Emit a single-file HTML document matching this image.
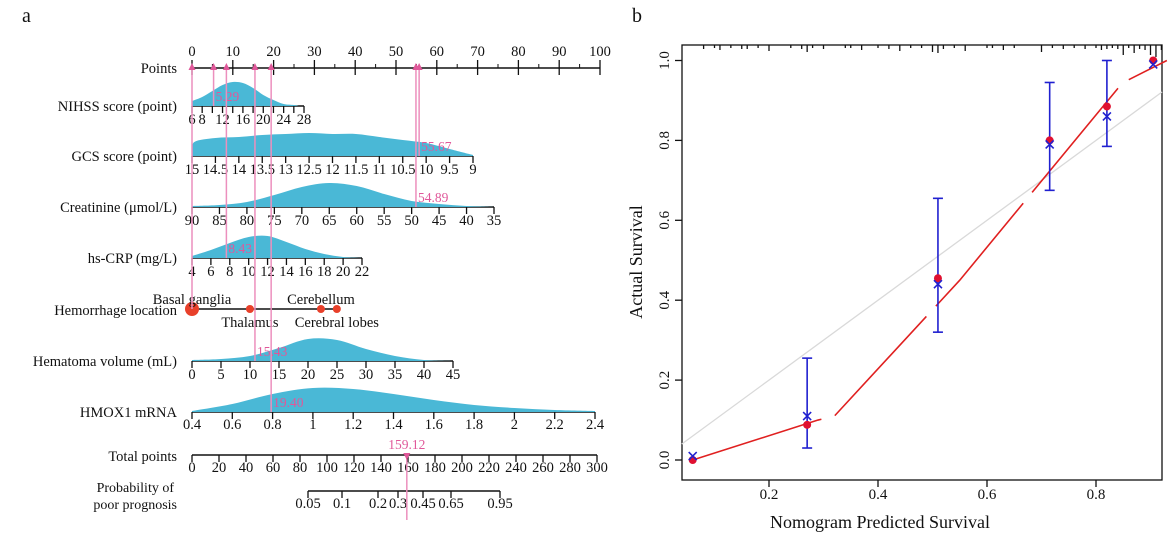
<!DOCTYPE html>
<html><head><meta charset="utf-8"><style>
body{margin:0;background:#fff}
svg{display:block;font-family:"Liberation Serif",serif}
</style></head><body>
<svg id="fig" width="1170" height="540" viewBox="0 0 1170 540"></svg>
<script>
// ---------- data ----------
const nihssVals=[6,8,10,12,14,16,18,20,22,24,26,27];
const nihssDens=[5,9,15,21,24,23,18,11,6,2,1,0];
const gcsVals=[15,14.95,14.5,14,13.5,13,12.5,12,11.5,11,10.5,10,9.5,9];
const gcsDens=[3,14,18,19,21,22,23,22,22,19,16,13,7,1];
const creaVals=[90,85,80,75,70,65,60,55,50,45,40,35];
const creaDens=[1,2,5,12,20,24,21,13,6,3,1,0];
const crpVals=[4,6,8,10,12,14,16,18,20,22];
const crpDens=[2,8,15,21,22,16,9,4,1,0];
const hemVals=[0,5,10,15,20,25,30,35,40,45];
const hemDens=[1,2,5,13,22,21,12,5,1,0];
const hmoxVals=[0.4,0.6,0.8,1.0,1.2,1.4,1.6,1.8,2.0,2.2,2.4];
const hmoxDens=[1,8,18,24,23,18,12,7,4,2,1];
const patientPoints=[0,5.29,8.43,15.43,19.40,54.89,55.67];
const totalPoints=159.12;
const locNames=["Basal ganglia","Thalamus","Cerebellum","Cerebral lobes"];
const locPoints=[0,14.2,31.6,35.5];
// calibration
const predX=[0.06,0.27,0.51,0.715,0.82,0.905];
const obsDot=[0.0,0.088,0.455,0.80,0.885,1.0];
const obsX=[0.01,0.11,0.44,0.79,0.86,0.99];
const errLo=[null,0.03,0.32,0.675,0.785,null];
const errHi=[null,0.255,0.655,0.945,1.0,null];
const curveX=[0.06,0.29,0.32,0.55,0.84,0.85,0.93];
const curveY=[0.0,0.10,0.11,0.45,0.93,0.945,1.0];
const rug=[0.08,0.1,0.11,0.13,0.15,0.16,0.18,0.2,0.24,0.26,0.27,0.28,0.3,0.34,0.35,0.37,0.4,0.42,0.44,0.46,0.48,0.5,0.51,0.52,0.54,0.56,0.6,0.61,0.63,0.65,0.7,0.72,0.74,0.76,0.78,0.8,0.81,0.82,0.83,0.84,0.85,0.86,0.87,0.88,0.89,0.9,0.91,0.92];
const rugLen=[4,3,5,3,4,4,3,6,3,4,7,3,4,3,3,5,3,4,6,3,3,7,8,4,3,6,3,3,5,3,7,3,4,3,4,3,5,4,3,4,10,3,8,4,5,10,12,5];

const svg=document.getElementById('fig');
const NS='http://www.w3.org/2000/svg';
function el(tag,attrs,parent){const e=document.createElementNS(NS,tag);for(const k in attrs)e.setAttribute(k,attrs[k]);(parent||svg).appendChild(e);return e;}
function txt(x,y,s,size,anchor,fill,parent){const t=el('text',{x:x,y:y,'font-size':size,'text-anchor':anchor||'middle',fill:fill||'#111'},parent);t.textContent=s;return t;}

txt(22,22,'a',20,'start');
txt(632,22,'b',20,'start');

// ---------- nomogram ----------
const P0=192,PW=4.08;
const px=p=>P0+p*PW;
const LBLX=177;
const FS=14.5;
function rowLabel(y,s,name){const t=txt(LBLX,y+5,s,14.5,'end');

}

function scaleAxis(name,y,x0,x1,v0,v1,ticks,labels,lblY){
  const g=el('g',{});
  
  
  const f=v=>x0+(v-v0)/(v1-v0)*(x1-x0);
  el('line',{x1:x0,y1:y,x2:x1,y2:y,stroke:'#111','stroke-width':1.5},g);
  ticks.forEach(v=>el('line',{x1:f(v),y1:y,x2:f(v),y2:y+7,stroke:'#111','stroke-width':1.3},g));
  labels.forEach(v=>txt(f(v),lblY,String(v),FS,'middle','#111',g));
  return f;
}
function density(name,y,f,vals,dens){
  const pts=vals.map((v,i)=>[f(v),y-dens[i]]);
  let d='M'+pts[0][0]+','+y+' L'+pts[0][0]+','+pts[0][1];
  for(let i=0;i<pts.length-1;i++){
    const p0=pts[Math.max(0,i-1)],p1=pts[i],p2=pts[i+1],p3=pts[Math.min(pts.length-1,i+2)];
    const c1=[p1[0]+(p2[0]-p0[0])/6,p1[1]+(p2[1]-p0[1])/6];
    const c2=[p2[0]-(p3[0]-p1[0])/6,p2[1]-(p3[1]-p1[1])/6];
    d+=` C${c1[0]},${c1[1]} ${c2[0]},${c2[1]} ${p2[0]},${p2[1]}`;
  }
  d+=' L'+pts[pts.length-1][0]+','+y+' Z';
  const p=el('path',{d:d,fill:'#4ab8d6',stroke:'none'});
  
  
}
const range=(a,b,s)=>{const r=[];for(let v=a;v<=b+1e-9;v+=s)r.push(Math.round(v*100)/100);return r;};

// Points
rowLabel(68,'Points','points-label');
const fp=scaleAxis('points-axis',68,P0,px(100),0,100,range(0,100,10),[],0);
range(0,100,10).forEach(v=>{el('line',{x1:fp(v),y1:68,x2:fp(v),y2:60,stroke:'#111','stroke-width':1.3});txt(fp(v),56,String(v),FS);});
range(5,95,10).forEach(v=>{el('line',{x1:fp(v),y1:68,x2:fp(v),y2:64,stroke:'#111','stroke-width':1});});

// NIHSS
rowLabel(106,'NIHSS score (point)','nihss-label');
const fn=scaleAxis('nihss-axis',106,192,304,6,28,range(6,28,2),[6,8,12,16,20,24,28],124);
density('nihss-density',106,fn,nihssVals,nihssDens);
// GCS
rowLabel(156,'GCS score (point)','gcs-label');
const fg=scaleAxis('gcs-axis',156,192,473,15,9,range(9,15,0.5),range(9,15,0.5),174);
density('gcs-density',156,fg,gcsVals,gcsDens);
// Creatinine
rowLabel(207,'Creatinine (\u03bcmol/L)','creatinine-label');
const fc=scaleAxis('creatinine-axis',207,192,494,90,35,range(35,90,5),range(35,90,5),225);
density('creatinine-density',207,fc,creaVals,creaDens);
// hs-CRP
rowLabel(258,'hs-CRP (mg/L)','hscrp-label');
const fh=scaleAxis('hscrp-axis',258,192,362,4,22,range(4,22,2),range(4,22,2),276);
density('hscrp-density',258,fh,crpVals,crpDens);
// Hemorrhage location
rowLabel(310,'Hemorrhage location','hemorrhage-label');
el('line',{x1:px(0),y1:309,x2:px(locPoints[3]),y2:309,stroke:'#111','stroke-width':1.5});
locPoints.forEach((p,i)=>{const c=el('circle',{cx:px(p),cy:309,r:i==0?7:4,fill:'#e8402a'});

});
txt(px(locPoints[0]),304,locNames[0],14.5);
txt(px(locPoints[1]),327,locNames[1],14.5);
txt(px(locPoints[2]),304,locNames[2],14.5);
txt(px(locPoints[3]),327,locNames[3],14.5);
// Hematoma
rowLabel(361,'Hematoma volume (mL)','hematoma-label');
const fm=scaleAxis('hematoma-axis',361,192,453,0,45,range(0,45,5),range(0,45,5),379);
density('hematoma-density',361,fm,hemVals,hemDens);
// HMOX1
rowLabel(412,'HMOX1 mRNA','hmox1-label');
const fx=scaleAxis('hmox1-axis',412,192,595,0.4,2.4,range(0.4,2.4,0.2),[0.4,0.6,0.8,1,1.2,1.4,1.6,1.8,2,2.2,2.4],429);
density('hmox1-density',412,fx,hmoxVals,hmoxDens);
// Total points
rowLabel(456,'Total points','total-points-label');
const ft=scaleAxis('total-points-axis',455,192,597,0,300,range(0,300,20),range(0,300,20),472);
// Probability
txt(LBLX-3,492,'Probability of',14,'end');
txt(LBLX,509,'poor prognosis',14,'end');
const probV=[0.05,0.1,0.2,0.3,0.45,0.65,0.95];
const probPx=[308,342,378,398,423,451,500];
const pg=el('g',{});


el('line',{x1:308,y1:491,x2:500,y2:491,stroke:'#111','stroke-width':1.5},pg);
probV.forEach((v,i)=>{el('line',{x1:probPx[i],y1:491,x2:probPx[i],y2:498,stroke:'#111','stroke-width':1.3},pg);txt(probPx[i],508,String(v),FS,'middle','#111',pg);});

// patient pink lines
const pink='#e0589a';
const rowYs=[309,106,258,361,412,207,156];
const pLabels=['', '5.29','8.43','15.43','19.40','54.89','55.67'];
patientPoints.forEach((p,i)=>{
  const x=px(p);
  const l=el('line',{x1:x,y1:68,x2:x,y2:rowYs[i],stroke:'#ec8fbd','stroke-width':1.5});
  
  
  el('path',{d:`M${x-3.5},70 L${x+3.5},70 L${x},63 Z`,fill:pink});
  if(pLabels[i])txt(x+2,rowYs[i]-5,pLabels[i],13.5,'start',pink);
});
const tx=ft(totalPoints);
el('line',{x1:tx,y1:455,x2:tx,y2:520,stroke:'#ec8fbd','stroke-width':1.5});
el('path',{d:`M${tx-3.5},453 L${tx+3.5},453 L${tx},460 Z`,fill:pink});
txt(tx,449,totalPoints.toFixed(2),13.5,'middle',pink);

// ---------- calibration ----------
const L=682,R=1162,T=45,B=480;
const cx=v=>660+v*545, cy=v=>460-v*399.5;
const cg=el('g',{});


el('rect',{x:L,y:T,width:R-L,height:B-T,fill:'none',stroke:'#111','stroke-width':1.3},cg);
[0,0.2,0.4,0.6,0.8,1.0].forEach(v=>{el('line',{x1:L,y1:cy(v),x2:L-7,y2:cy(v),stroke:'#111','stroke-width':1.3});
 const t=txt(0,0,v.toFixed(1),15);t.setAttribute('transform',`translate(${L-13},${cy(v)}) rotate(-90)`);});
[0.2,0.4,0.6,0.8].forEach(v=>{el('line',{x1:cx(v),y1:B,x2:cx(v),y2:B+7,stroke:'#111','stroke-width':1.3});txt(cx(v),499,String(v),15);});
const xt=txt(880,528,'Nomogram Predicted Survival',18);

const yt=txt(0,0,'Actual Survival',18);
yt.setAttribute('transform','translate(642,262) rotate(-90)');

// rug
rug.forEach((v,i)=>{const r=el('line',{x1:cx(v),y1:T,x2:cx(v),y2:T+rugLen[i],stroke:'#111','stroke-width':1.3});

});
// ideal line
el('line',{x1:cx(0.04),y1:cy(0.04),x2:R,y2:cy((R-660)/545),stroke:'#d9d9d9','stroke-width':1.3});
// red curve
let d='';curveX.forEach((v,i)=>{d+=(i?' L':'M')+cx(v)+','+cy(curveY[i]);});
const rc=el('path',{d:d,fill:'none',stroke:'#e02020','stroke-width':1.6,'stroke-dasharray':'135 14'});


// error bars, dots, x marks
predX.forEach((v,i)=>{
  const x=cx(v);
  if(errLo[i]!==null){
    const g=el('g',{stroke:'#2020d0','stroke-width':1.6});
    
    
    el('line',{x1:x,y1:cy(errLo[i]),x2:x,y2:cy(errHi[i])},g);
    el('line',{x1:x-5,y1:cy(errLo[i]),x2:x+5,y2:cy(errLo[i])},g);
    el('line',{x1:x-5,y1:cy(errHi[i]),x2:x+5,y2:cy(errHi[i])},g);
  }
  const c=el('circle',{cx:x,cy:cy(obsDot[i]),r:4,fill:'#e01030'});
  
  
  const y=cy(obsX[i]);
  const m=el('path',{d:`M${x-4},${y-4} L${x+4},${y+4} M${x-4},${y+4} L${x+4},${y-4}`,stroke:'#2020d0','stroke-width':1.6});
  
  
});
</script>
</body></html>
